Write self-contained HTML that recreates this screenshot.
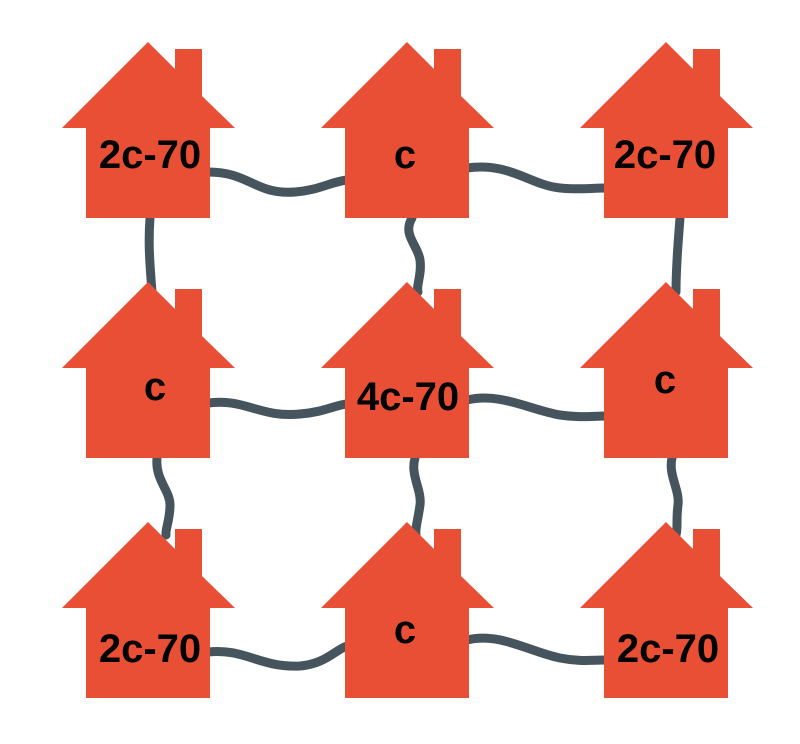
<!DOCTYPE html>
<html><head><meta charset="utf-8"><style>
html,body{margin:0;padding:0;background:#fff;}
svg{display:block}
text{font-family:"Liberation Sans",sans-serif;font-size:40px;fill:#000;font-weight:bold;text-anchor:middle}
</style></head><body>
<svg width="800" height="744" viewBox="0 0 800 744">
<defs>
<polygon id="h" points="62,128 148,42 175,69 175,49 202,49 202,96 235,128 210,128 210,218 86,218 86,128" fill="#e84f35"/>
</defs>
<g fill="none" stroke="#46555d" stroke-width="9" stroke-linecap="round">
<!-- horizontal row connectors -->
<path d="M208,172 C250,172 255,195 295,192 C320,190 330,182 347,180"/>
<path d="M467,168 C510,162 530,185 560,188 C580,190 590,188 606,188"/>
<path d="M208,403 C245,398 260,418 300,414 C325,412 335,405 347,404"/>
<path d="M467,400 C500,392 530,410 560,415 C580,418 592,416 606,416"/>
<path d="M208,652 C245,648 260,668 300,666 C325,664 335,650 347,646"/>
<path d="M467,640 C500,632 530,652 560,658 C580,662 592,660 606,660"/>
<!-- vertical connectors -->
<path d="M150,218 C148,245 150,265 152,292"/>
<path d="M412,218 C402,235 418,245 420,260 C422,275 416,285 418,292"/>
<path d="M680,218 C678,245 676,265 676,292"/>
<path d="M157,458 C155,480 170,490 170,505 C170,520 165,530 166,535"/>
<path d="M415,458 C410,475 422,490 420,505 C418,520 415,528 416,535"/>
<path d="M672,458 C668,475 680,490 678,505 C676,520 678,528 676,535"/>
</g>
<use href="#h"/>
<use href="#h" x="259"/>
<use href="#h" x="518"/>
<use href="#h" y="240"/>
<use href="#h" x="259" y="240"/>
<use href="#h" x="518" y="240"/>
<use href="#h" y="480"/>
<use href="#h" x="259" y="480"/>
<use href="#h" x="518" y="480"/>
<text x="150" y="168">2c-70</text>
<text x="405" y="168">c</text>
<text x="665" y="168">2c-70</text>
<text x="155" y="400">c</text>
<text x="408" y="410">4c-70</text>
<text x="665" y="393">c</text>
<text x="150" y="662">2c-70</text>
<text x="405" y="643">c</text>
<text x="668" y="662">2c-70</text>
</svg>
</body></html>
